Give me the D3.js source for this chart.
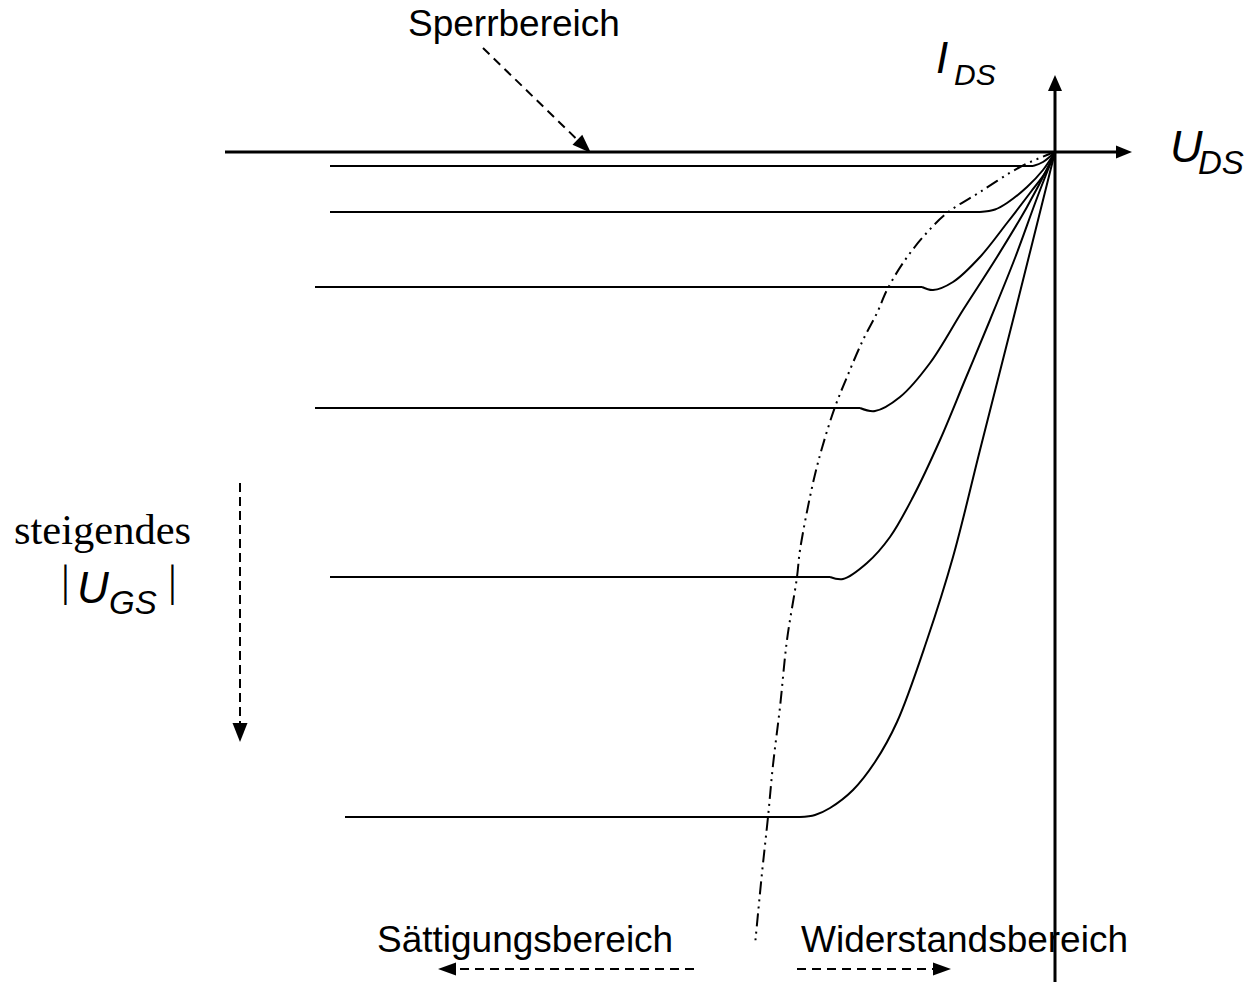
<!DOCTYPE html>
<html>
<head>
<meta charset="utf-8">
<script src="https://cdn.jsdelivr.net/npm/d3@7"></script>
<style>
  html, body { margin: 0; padding: 0; background: #fff; }
  svg { display: block; }
</style>
</head>
<body>
<svg id="chart" width="1254" height="982"></svg>
<script>
// Output characteristics of a p-channel FET (third quadrant): I_DS over U_DS
// for rising |U_GS|, with the boundary between resistive and saturation region.

// Axis extents (arbitrary units)
const uAxisExtent = [-8.30, 0.77];
const iAxisExtent = [-8.30, 0.77];

// Characteristics, one per gate-voltage step: [U_DS, I_DS].
// The first two points are the flat saturation part, the rest the ohmic bend.
const curveUgs1 = [[-7.25, -0.14], [-0.22, -0.14], [-0.12, -0.10], [0, 0]];
const curveUgs2 = [[-7.25, -0.60], [-0.75, -0.60], [-0.60, -0.575], [-0.48, -0.51], [-0.28, -0.35],
                   [-0.12, -0.18], [0, 0]];
const curveUgs3 = [[-7.40, -1.35], [-1.33, -1.35], [-1.22, -1.38], [-1.02, -1.30], [-0.75, -1.05],
                   [-0.48, -0.71], [-0.25, -0.41], [-0.08, -0.18], [0, 0]];
const curveUgs4 = [[-7.40, -2.56], [-1.95, -2.56], [-1.80, -2.59], [-1.55, -2.45], [-1.25, -2.11],
                   [-0.92, -1.58], [-0.58, -1.05], [-0.28, -0.55], [-0.05, -0.11], [0, 0]];
const curveUgs5 = [[-7.25, -4.25], [-2.25, -4.25], [-2.12, -4.27], [-1.88, -4.11], [-1.65, -3.85],
                   [-1.42, -3.45], [-1.15, -2.88], [-0.90, -2.28], [-0.65, -1.68], [-0.40, -1.06],
                   [-0.18, -0.46], [0, 0]];
const curveUgs6 = [[-7.10, -6.65], [-2.55, -6.65], [-2.40, -6.63], [-2.25, -6.56], [-2.02, -6.38],
                   [-1.80, -6.10], [-1.58, -5.70], [-1.28, -4.88], [-1.02, -4.05], [-0.75, -2.98],
                   [-0.42, -1.68], [0, 0]];
const characteristics = [curveUgs1, curveUgs2, curveUgs3, curveUgs4, curveUgs5, curveUgs6];

// Pinch-off boundary U_DS,sat
const pinchOff = [[0, 0], [-0.08, -0.03], [-0.35, -0.15], [-0.75, -0.40], [-1.08, -0.61], [-1.32, -0.85],
                  [-1.52, -1.11], [-1.68, -1.38], [-1.78, -1.61], [-1.92, -1.88], [-2.08, -2.25],
                  [-2.20, -2.55], [-2.33, -2.96], [-2.42, -3.31], [-2.55, -3.98], [-2.58, -4.25],
                  [-2.68, -4.88], [-2.75, -5.55], [-2.82, -6.13], [-2.87, -6.65], [-2.93, -7.21],
                  [-3.00, -7.93]];

// Labels
const axisLabelU = ["U", "DS"];
const axisLabelI = ["I", "DS"];
const regionLabels = ["Sperrbereich", "Sättigungsbereich", "Widerstandsbereich"];
const gateLabel = ["steigendes", "U", "GS"];

const svg = d3.select("#chart");
svg.append("rect").attr("width", 1254).attr("height", 982).attr("fill", "#fff");

const x = d3.scaleLinear().domain([-8, 0]).range([255, 1055]);
const y = d3.scaleLinear().domain([0, -8]).range([152, 952]);

const SANS = "'Liberation Sans', Arial, Helvetica, sans-serif";
const SERIF = "'Liberation Serif', 'Times New Roman', serif";

// Straight (optionally dashed) arrow with a filled triangular head
function arrow(g, x1, y1, x2, y2, o) {
  const len = o.head || 17, half = o.half || 6.5;
  const dx = x2 - x1, dy = y2 - y1, d = Math.hypot(dx, dy);
  const ux = dx / d, uy = dy / d;
  const bx = x2 - ux * len, by = y2 - uy * len;
  g.append("line")
    .attr("x1", x1).attr("y1", y1).attr("x2", bx).attr("y2", by)
    .attr("stroke", "#000").attr("stroke-width", o.width || 2)
    .attr("stroke-dasharray", o.dash || null);
  g.append("path")
    .attr("d", `M${x2},${y2}L${bx - uy * half},${by + ux * half}L${bx + uy * half},${by - ux * half}Z`)
    .attr("fill", "#000");
}

const flatLine = d3.line()
  .x(d => x(d[0]))
  .y(d => y(d[1]));

const smoothLine = d3.line()
  .x(d => x(d[0]))
  .y(d => y(d[1]))
  .curve(d3.curveCatmullRom.alpha(0.5));

// Characteristic curves: straight saturation part + smooth bend to the origin
const gChar = svg.append("g")
  .attr("fill", "none")
  .attr("stroke", "#000")
  .attr("stroke-width", 2)
  .attr("stroke-linejoin", "round");

gChar.selectAll("path.flat")
  .data(characteristics)
  .join("path")
  .attr("class", "flat")
  .attr("d", d => flatLine(d.slice(0, 2)));

gChar.selectAll("path.bend")
  .data(characteristics)
  .join("path")
  .attr("class", "bend")
  .attr("d", d => smoothLine(d.slice(1)));

// Pinch-off boundary (dash-dot-dot)
svg.append("path")
  .datum(pinchOff)
  .attr("d", smoothLine)
  .attr("fill", "none")
  .attr("stroke", "#000")
  .attr("stroke-width", 2)
  .attr("stroke-dasharray", "13,5,2,5,2,5");

// Axes
const axes = svg.append("g");
arrow(axes, x(uAxisExtent[0]), y(0), x(uAxisExtent[1]), y(0), { width: 3, head: 16, half: 6.5 });
arrow(axes, x(0), y(iAxisExtent[0]), x(0), y(iAxisExtent[1]), { width: 3, head: 16, half: 7 });

// Axis labels
const lu = svg.append("text").attr("font-family", SANS).attr("font-style", "italic");
lu.append("tspan").attr("x", 1170).attr("y", 162).attr("font-size", 45).text(axisLabelU[0]);
lu.append("tspan").attr("x", 1198).attr("y", 174).attr("font-size", 33).text(axisLabelU[1]);

const li = svg.append("text").attr("font-family", SANS).attr("font-style", "italic");
li.append("tspan").attr("x", 936).attr("y", 73).attr("font-size", 44).text(axisLabelI[0]);
li.append("tspan").attr("x", 954).attr("y", 85).attr("font-size", 30).text(axisLabelI[1]);

// Region labels and their arrows
const ann = svg.append("g");
ann.append("text").attr("x", 408).attr("y", 36).attr("font-family", SANS).attr("font-size", 37)
  .text(regionLabels[0]);
arrow(ann, 483, 48, 591, 153, { dash: "9,6", width: 2, head: 19, half: 7 });

ann.append("text").attr("x", 377).attr("y", 952).attr("font-family", SANS).attr("font-size", 37)
  .text(regionLabels[1]);
arrow(ann, 694, 969, 438, 969, { dash: "9,6", width: 2, head: 18, half: 6.5 });

ann.append("text").attr("x", 801).attr("y", 952).attr("font-family", SANS).attr("font-size", 37)
  .text(regionLabels[2]);
arrow(ann, 797, 969, 951, 969, { dash: "9,6", width: 2, head: 18, half: 6.5 });

// Gate voltage note
ann.append("text").attr("x", 14).attr("y", 544).attr("font-family", SERIF).attr("font-size", 42.5)
  .text(gateLabel[0]);
ann.append("text").attr("x", 61).attr("y", 596).attr("font-family", SERIF).attr("font-size", 44).text("|");
const ugs = ann.append("text").attr("font-family", SANS).attr("font-style", "italic");
ugs.append("tspan").attr("x", 77).attr("y", 603).attr("font-size", 44).text(gateLabel[1]);
ugs.append("tspan").attr("x", 109).attr("y", 614).attr("font-size", 33).text(gateLabel[2]);
ann.append("text").attr("x", 168).attr("y", 596).attr("font-family", SERIF).attr("font-size", 44).text("|");
arrow(ann, 240, 483, 240, 742, { dash: "9,5", width: 2, head: 19, half: 7.5 });
</script>
</body>
</html>
